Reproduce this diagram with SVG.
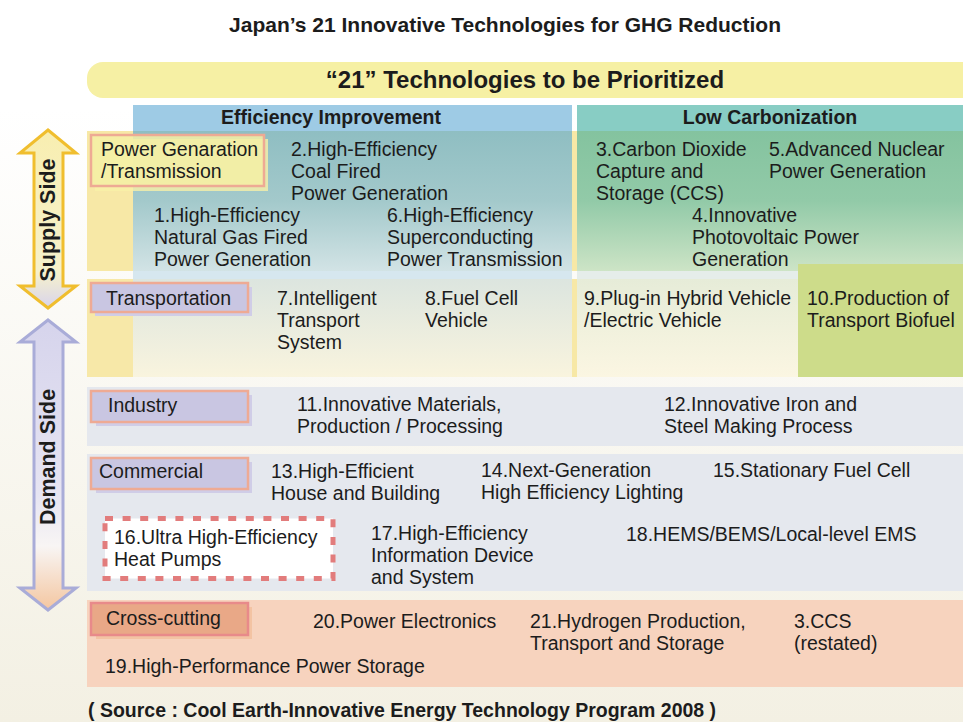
<svg xmlns="http://www.w3.org/2000/svg" width="963" height="722" viewBox="0 0 963 722">
<style>
.t{font-family:"Liberation Sans",Arial,Helvetica,sans-serif;font-size:19.5px;fill:#1c1c1c}
.b{font-weight:bold}
.cat{stroke:#eeaa94;stroke-width:2.5}
.lav{fill:#c9c6e2}
.lavs{fill:#d0cde7}
.row{fill:#e5e8ee}
</style>
<defs>
<linearGradient id="bg" x1="0" y1="0" x2="0" y2="1">
<stop offset="0" stop-color="#ffffff"/>
<stop offset="0.15" stop-color="#ffffff"/>
<stop offset="1" stop-color="#f3f0e3"/>
</linearGradient>
<linearGradient id="effSup" x1="0" y1="0" x2="0" y2="1">
<stop offset="0" stop-color="#8fbec2"/>
<stop offset="0.5" stop-color="#a3c9cb"/>
<stop offset="1" stop-color="#d2e3e5"/>
</linearGradient>
<linearGradient id="lowSup" x1="0" y1="0" x2="0" y2="1">
<stop offset="0" stop-color="#84c39f"/>
<stop offset="0.5" stop-color="#92caa8"/>
<stop offset="1" stop-color="#cde4c6"/>
</linearGradient>
<linearGradient id="effTr" x1="0" y1="0" x2="0" y2="1">
<stop offset="0" stop-color="#dce5df"/>
<stop offset="1" stop-color="#f9f4de"/>
</linearGradient>
<linearGradient id="lowTr" x1="0" y1="0" x2="0" y2="1">
<stop offset="0" stop-color="#e6ecd8"/>
<stop offset="1" stop-color="#fbf6e2"/>
</linearGradient>
<linearGradient id="supArrow" x1="0" y1="0" x2="0" y2="1">
<stop offset="0" stop-color="#f8eeb0"/>
<stop offset="0.8" stop-color="#f6f1cc"/>
<stop offset="1" stop-color="#d8d4ec"/>
</linearGradient>
<linearGradient id="demArrow" x1="0" y1="0" x2="0" y2="1">
<stop offset="0" stop-color="#d6d4ec"/>
<stop offset="0.6" stop-color="#e6e4f2"/>
<stop offset="0.78" stop-color="#f8f5f4"/>
<stop offset="1" stop-color="#f4c6a0"/>
</linearGradient>
</defs>

<rect x="0" y="0" width="963" height="722" fill="url(#bg)"/>

<g id="title">
<text class="t b" x="505" y="32" text-anchor="middle" style="font-size:21px">Japan’s 21 Innovative Technologies for GHG Reduction</text>
</g>

<g id="banner">
<rect x="87" y="62" width="900" height="36" rx="16" fill="#f6f0a4"/>
<text class="t b" x="525" y="88" text-anchor="middle" style="font-size:24px">“21” Technologies to be Prioritized</text>
</g>

<g id="background-grid">
<rect x="133" y="105" width="439" height="26" fill="#9ecbe5"/>
<rect x="577" y="105" width="386" height="26" fill="#88cdc4"/>
<rect x="87" y="131" width="46" height="140" fill="#f7e8a6"/>
<rect x="133" y="131" width="439" height="140" fill="url(#effSup)"/>
<rect x="572" y="131" width="5" height="140" fill="#f7e8a6"/>
<rect x="577" y="131" width="386" height="140" fill="url(#lowSup)"/>
<rect x="133" y="271" width="439" height="8" fill="#d6e7ef"/>
<rect x="577" y="271" width="386" height="8" fill="#e5edea"/>
<rect x="87" y="279" width="46" height="98" fill="#f7e8a8"/>
<rect x="133" y="279" width="439" height="98" fill="url(#effTr)"/>
<rect x="572" y="279" width="5" height="98" fill="#f7e8a6"/>
<rect x="577" y="279" width="386" height="98" fill="url(#lowTr)"/>
<rect class="row" x="87" y="387" width="876" height="59"/>
<rect class="row" x="87" y="454" width="876" height="137"/>
<rect x="87" y="600" width="876" height="87" fill="#f7d3be"/>
</g>

<g id="header-efficiency">
<text class="t b" x="331" y="124" text-anchor="middle">Efficiency Improvement</text>
</g>
<g id="header-low-carbon">
<text class="t b" x="770" y="124" text-anchor="middle">Low Carbonization</text>
</g>

<g id="side-arrows">
<g id="supply-side">
<path d="M48,130 L76,153 L63,153 L63,286 L76,286 L48,308 L20,286 L34,286 L34,153 L20,153 Z" fill="url(#supArrow)" stroke="#f0be2e" stroke-width="3" stroke-linejoin="miter"/>
<text class="t b" transform="translate(55,220) rotate(-90)" text-anchor="middle" style="font-size:21.5px">Supply Side</text>
</g>
<g id="demand-side">
<path d="M48,320 L76,342 L63,342 L63,588 L76,588 L48,610 L20,588 L34,588 L34,342 L20,342 Z" fill="url(#demArrow)" stroke="#a9acd8" stroke-width="3"/>
<text class="t b" transform="translate(55,457) rotate(-90)" text-anchor="middle" style="font-size:21.5px">Demand Side</text>
</g>
</g>

<g id="cat-power">
<rect x="95" y="139" width="173" height="52" fill="#f7f0a8" fill-opacity="0.8"/>
<rect class="cat" x="91" y="135" width="173" height="51" fill="#f5efa4" fill-opacity="0.85"/>
<text class="t" x="101" y="156">Power Genaration</text>
<text class="t" x="101" y="178">/Transmission</text>
</g>

<g id="tech-2">
<text class="t" x="291" y="156">2.High-Efficiency</text>
<text class="t" x="291" y="178">Coal Fired</text>
<text class="t" x="291" y="200">Power Generation</text>
</g>
<g id="tech-1">
<text class="t" x="154" y="222">1.High-Efficiency</text>
<text class="t" x="154" y="244">Natural Gas Fired</text>
<text class="t" x="154" y="266">Power Generation</text>
</g>
<g id="tech-6">
<text class="t" x="387" y="222">6.High-Efficiency</text>
<text class="t" x="387" y="244">Superconducting</text>
<text class="t" x="387" y="266">Power Transmission</text>
</g>
<g id="tech-3">
<text class="t" x="596" y="156">3.Carbon Dioxide</text>
<text class="t" x="596" y="178">Capture and</text>
<text class="t" x="596" y="200">Storage (CCS)</text>
</g>
<g id="tech-5">
<text class="t" x="769" y="156">5.Advanced Nuclear</text>
<text class="t" x="769" y="178">Power Generation</text>
</g>
<g id="tech-4">
<text class="t" x="692" y="222">4.Innovative</text>
<text class="t" x="692" y="244">Photovoltaic Power</text>
<text class="t" x="692" y="266">Generation</text>
</g>

<g id="tech-10">
<rect x="798" y="264" width="165" height="113" fill="#cddc8a"/>
<text class="t" x="807" y="305">10.Production of</text>
<text class="t" x="807" y="327">Transport Biofuel</text>
</g>

<g id="cat-transportation">
<rect class="lavs" x="95" y="287" width="157" height="29"/>
<rect class="cat lav" x="91" y="283" width="157" height="29"/>
<text class="t" x="106" y="305">Transportation</text>
</g>
<g id="tech-7">
<text class="t" x="277" y="305">7.Intelligent</text>
<text class="t" x="277" y="327">Transport</text>
<text class="t" x="277" y="349">System</text>
</g>
<g id="tech-8">
<text class="t" x="425" y="305">8.Fuel Cell</text>
<text class="t" x="425" y="327">Vehicle</text>
</g>
<g id="tech-9">
<text class="t" x="584" y="305">9.Plug-in Hybrid Vehicle</text>
<text class="t" x="584" y="327">/Electric Vehicle</text>
</g>

<g id="cat-industry">
<rect class="lavs" x="96" y="395" width="156" height="31"/>
<rect class="cat lav" x="91" y="391" width="157" height="31"/>
<text class="t" x="108" y="412">Industry</text>
</g>
<g id="tech-11">
<text class="t" x="297" y="411">11.Innovative Materials,</text>
<text class="t" x="297" y="433">Production / Processing</text>
</g>
<g id="tech-12">
<text class="t" x="664" y="411">12.Innovative Iron and</text>
<text class="t" x="664" y="433">Steel Making Process</text>
</g>

<g id="cat-commercial">
<rect class="lavs" x="96" y="462" width="156" height="31"/>
<rect class="cat lav" x="91" y="458" width="157" height="31"/>
<text class="t" x="99" y="478">Commercial</text>
</g>
<g id="tech-13">
<text class="t" x="271" y="478">13.High-Efficient</text>
<text class="t" x="271" y="500">House and Building</text>
</g>
<g id="tech-14">
<text class="t" x="481" y="477">14.Next-Generation</text>
<text class="t" x="481" y="499">High Efficiency Lighting</text>
</g>
<g id="tech-15">
<text class="t" x="713" y="477">15.Stationary Fuel Cell</text>
</g>
<g id="tech-16">
<rect x="105" y="518.5" width="228" height="60" fill="#ffffff" stroke="#e27c7c" stroke-width="5" stroke-dasharray="8 9.6"/>
<text class="t" x="114" y="544">16.Ultra High-Efficiency</text>
<text class="t" x="114" y="566">Heat Pumps</text>
</g>
<g id="tech-17">
<text class="t" x="371" y="540">17.High-Efficiency</text>
<text class="t" x="371" y="562">Information Device</text>
<text class="t" x="371" y="584">and System</text>
</g>
<g id="tech-18">
<text class="t" x="626" y="541">18.HEMS/BEMS/Local-level EMS</text>
</g>

<g id="cat-cross-cutting">
<rect x="96" y="607" width="156" height="32" fill="#f3c3a3"/>
<rect x="91" y="603" width="157" height="32" fill="#e9a887" stroke="#e88a8a" stroke-width="2.5"/>
<text class="t" x="106" y="625">Cross-cutting</text>
</g>
<g id="tech-20">
<text class="t" x="313" y="628">20.Power Electronics</text>
</g>
<g id="tech-21">
<text class="t" x="530" y="628">21.Hydrogen Production,</text>
<text class="t" x="530" y="650">Transport and Storage</text>
</g>
<g id="tech-3-restated">
<text class="t" x="794" y="628">3.CCS</text>
<text class="t" x="794" y="650">(restated)</text>
</g>
<g id="tech-19">
<text class="t" x="105" y="673">19.High-Performance Power Storage</text>
</g>

<g id="source">
<text class="t b" x="88" y="717">( Source : Cool Earth-Innovative Energy Technology Program 2008 )</text>
</g>
</svg>
